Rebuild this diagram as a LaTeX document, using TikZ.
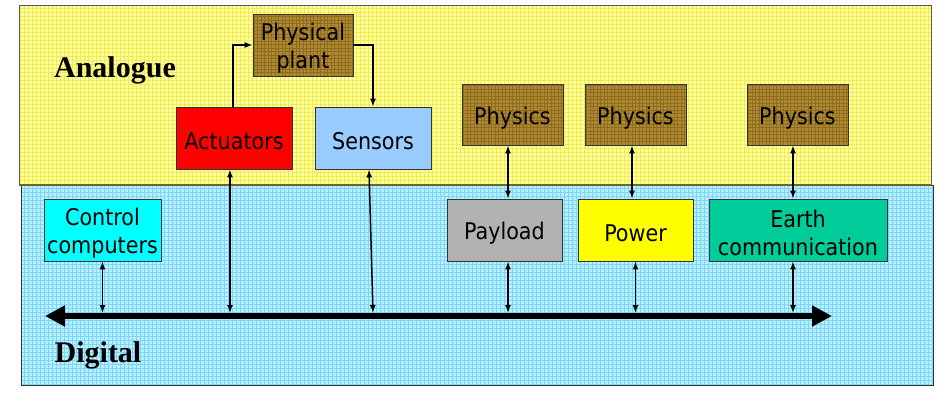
\documentclass[tikz,border=0pt]{standalone}
\usepackage{fontspec}
\setmainfont{Liberation Serif}
\newfontfamily\boxfont{DejaVu Sans Condensed}
\usetikzlibrary{arrows.meta}
\definecolor{ybg}{HTML}{FFFFA0}
\definecolor{ygrid}{HTML}{F0EC50}
\definecolor{bbg}{HTML}{BDEEFF}
\definecolor{bgrid}{HTML}{78D8F8}
\definecolor{brownfill}{HTML}{B08A32}
\definecolor{browngrid}{HTML}{8E6C1E}
\definecolor{sensblue}{HTML}{99CCFF}
\definecolor{ctrlcyan}{HTML}{00FFFF}
\definecolor{powyellow}{HTML}{FFFF00}
\definecolor{actred}{HTML}{FF0000}
\definecolor{paygray}{HTML}{B2B2B2}
\definecolor{earthgreen}{HTML}{00CC99}
\definecolor{edge}{HTML}{333333}
\newcommand{\lowline}[1]{\raisebox{-3pt}[\height][\depth]{#1}}
\tikzset{
  box/.style={draw=edge, line width=0.9pt, inner sep=0pt, align=center,
    font=\boxfont\fontsize{23}{28}\selectfont, minimum height=62pt,
    execute at begin node={\rule{0pt}{24pt}}},
  brownbox/.style={box, fill=brownfill, path picture={
    \draw[browngrid, line width=0.5pt, step=3.5pt]
      (path picture bounding box.south west) grid (path picture bounding box.north east);}},
  conn/.style={line width=1.4pt, -{Latex[length=8pt,width=6pt]}},
  dconn/.style={line width=1.5pt, {Latex[length=8pt,width=6pt]}-{Latex[length=8pt,width=6pt]}},
  bus/.style={line width=6pt, {Triangle[length=20pt,width=20pt]}-{Triangle[length=20pt,width=20pt]}},
  zonelabel/.style={font=\bfseries\fontsize{30}{34}\selectfont, inner sep=0pt}
}
\begin{document}
\begin{tikzpicture}[x=1pt,y=-1pt]
\useasboundingbox (0,0) rectangle (940,396);
% zones
\fill[bbg] (21,185) rectangle (933,385);
\begin{scope}
\clip (21,185) rectangle (933,385);
\draw[bgrid, line width=0.6pt, step=4pt] (21,185) grid (933,385);
\end{scope}
\draw[edge, line width=1pt] (21,185) rectangle (933,385);
\fill[ybg] (19,6) rectangle (931,185);
\begin{scope}
\clip (19,6) rectangle (931,185);
\draw[ygrid, line width=0.6pt, step=4pt] (19,6) grid (931,185);
\end{scope}
\draw[gray!70!black, line width=1pt] (19,6) rectangle (931,185);
\draw[olive!70!black, line width=1.5pt] (19,185) -- (931,185);

\node[zonelabel] (analogue) at (115,70) {Analogue};
\node[zonelabel] (digital) at (98,355) {Digital};

% analogue boxes
\node[brownbox, minimum width=100pt] (plant) at (303,45) {\lowline{Physical}\\\lowline{plant}};
\node[box, fill=actred, minimum width=116pt] (act) at (234,138) {Actuators};
\node[box, fill=sensblue, minimum width=116pt] (sens) at (373,138) {Sensors};
\node[brownbox, minimum width=101pt, minimum height=61pt] (ph1) at (512.5,114.5) {Physics};
\node[brownbox, minimum width=101pt, minimum height=61pt] (ph2) at (635.5,114.5) {Physics};
\node[brownbox, minimum width=101pt, minimum height=61pt] (ph3) at (797.5,114.5) {Physics};

% digital boxes
\node[box, fill=ctrlcyan, minimum width=117pt] (ctrl) at (102.5,230) {\lowline{Control}\\\lowline{computers}};
\node[box, fill=paygray, minimum width=115pt] (pay) at (504.5,230) {Payload};
\node[box, fill=powyellow, minimum width=115pt] (pow) at (635.5,230) {Power};
\node[box, fill=earthgreen, minimum width=178pt] (earth) at (798,230) {\lowline{Earth}\\\lowline{communication}};

% bus
\coordinate (busL) at (45,316);
\coordinate (busR) at (832,316);
\draw[bus] (busL) -- (busR);
\coordinate (busT) at (0,313);

% connectors
\draw[conn] ([xshift=-1pt]act.north) |- (plant.west);
\draw[conn] (plant.east) -| (sens.north);
\draw[dconn] ([xshift=-4pt]act.south) -- ([xshift=-4pt]act.south |- busT);
\draw[dconn] ([xshift=-4pt]sens.south) -- (sens.south |- busT);
\draw[dconn] (ctrl.south) -- (ctrl.south |- busT);
\draw[dconn] ([xshift=-4.5pt]ph1.south) -- ([xshift=-4.5pt]ph1.south |- pay.north);
\draw[dconn] ([xshift=3.5pt]pay.south) -- ([xshift=3.5pt]pay.south |- busT);
\draw[dconn] ([xshift=-3.5pt]ph2.south) -- ([xshift=-3.5pt]ph2.south |- pow.north);
\draw[dconn] (pow.south) -- (pow.south |- busT);
\draw[dconn] ([xshift=-4.5pt]ph3.south) -- ([xshift=-4.5pt]ph3.south |- earth.north);
\draw[dconn] ([xshift=-5pt]earth.south) -- ([xshift=-5pt]earth.south |- busT);
\end{tikzpicture}
\end{document}
